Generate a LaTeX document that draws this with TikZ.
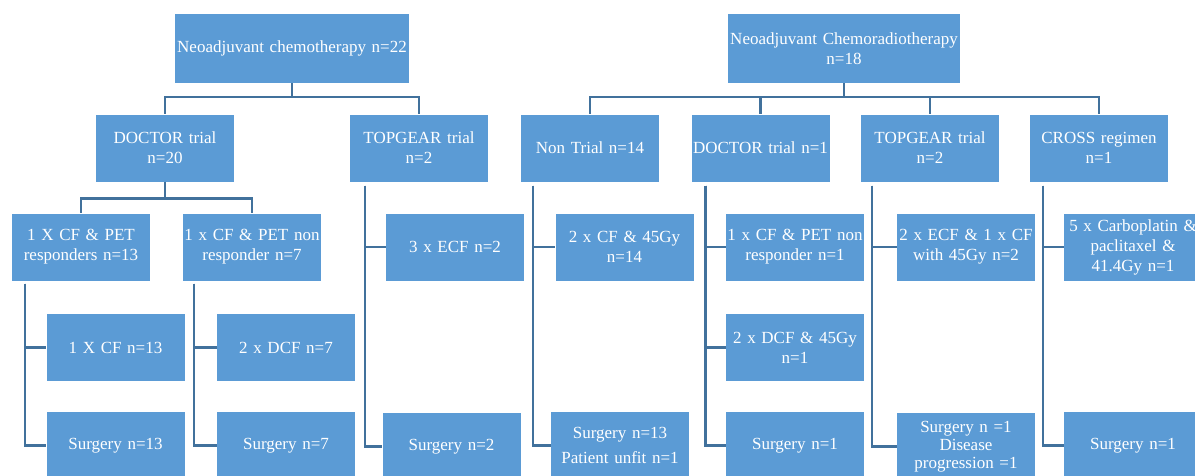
\documentclass[tikz,border=0pt]{standalone}
\usepackage{fontspec}
\setmainfont{Liberation Serif}
\usetikzlibrary{calc}
\definecolor{boxblue}{HTML}{5B9BD5}
\definecolor{lineblue}{HTML}{41719C}
\tikzset{
  box/.style={rectangle, fill=boxblue, text=white, inner sep=0pt,
    minimum width=138pt, minimum height=67pt, text width=136pt, align=center,
    font=\fontsize{17}{20}\selectfont},
  conn/.style={draw=lineblue, line width=2.5pt},
}
\begin{document}
\begin{tikzpicture}[x=1pt,y=-1pt]
\useasboundingbox (0,0) rectangle (1195,475);
% roots
\node[box, minimum width=234pt, text width=232pt, minimum height=69pt] (r1) at (292,48.5) {Neoadjuvant chemotherapy n=22};
\node[box, minimum width=232pt, text width=230pt, minimum height=69pt] (r2) at (844,48.5) {Neoadjuvant Chemoradiotherapy\\n=18};
% level 2
\node[box] (d1) at (165,148) {DOCTOR trial\\n=20};
\node[box] (t1) at (419,148) {TOPGEAR trial\\n=2};
\node[box] (n2) at (590,148) {Non Trial n=14};
\node[box] (d2) at (760.5,148) {DOCTOR trial n=1};
\node[box] (t2) at (930,148) {TOPGEAR trial\\n=2};
\node[box] (c2) at (1099,148) {CROSS regimen\\n=1};
% level 3
\node[box] (a1) at (81,247) {1 X CF \& PET\\responders n=13};
\node[box] (a2) at (252,247) {1 x CF \& PET non\\responder n=7};
\node[box] (a3) at (455,247) {3 x ECF n=2};
\node[box] (b1) at (624.5,247) {2 x CF \& 45Gy\\n=14};
\node[box] (b2) at (795,247) {1 x CF \& PET non\\responder n=1};
\node[box] (b3) at (966,247) {2 x ECF \& 1 x CF\\with 45Gy n=2};
\node[box] (b4) at (1133,247) {5 x Carboplatin \&\\paclitaxel \&\\41.4Gy n=1};
% level 4
\node[box] (e1) at (115.5,347.5) {1 X CF n=13};
\node[box] (e2) at (286,347.5) {2 x DCF n=7};
\node[box] (f2) at (795,347.5) {2 x DCF \& 45Gy\\n=1};
% level 5
\node[box] (s1) at (115.5,445.5) {Surgery n=13};
\node[box] (s2) at (286,445.5) {Surgery n=7};
\node[box] (s3) at (451.5,446.5) {Surgery n=2};
\node[box, font=\fontsize{17}{25}\selectfont] (s4) at (620,445.5) {Surgery n=13\\Patient unfit n=1};
\node[box] (s5) at (795,445.5) {Surgery n=1};
\node[box, font=\fontsize{17}{18}\selectfont] (s6) at (966,446.5) {Surgery n =1\\Disease\\progression =1};
\node[box] (s7) at (1133,445.5) {Surgery n=1};
% root connectors
\draw[conn] (r1.south) -- ++(0,14) coordinate (j1);
\draw[conn] (j1) -| (d1.north);
\draw[conn] (j1) -| (t1.north);
\draw[conn] (r2.south) -- ++(0,14) coordinate (j2);
\draw[conn] (j2) -| (n2.north);
\draw[conn] (j2) -| (d2.north);
\draw[conn] (j2) -| (t2.north);
\draw[conn] (j2) -| (c2.north);
% DOCTOR left
\draw[conn] (d1.south) -- ++(0,17) coordinate (j3);
\draw[conn] (j3) -| (a1.north);
\draw[conn] (j3) -| (a2.north);
% side verticals
\draw[conn] ($(a1.south west)+(13,3)$) |- (e1.west);
\draw[conn] ($(a1.south west)+(13,3)$) |- (s1.west);
\draw[conn] ($(a2.south west)+(11,3)$) |- (e2.west);
\draw[conn] ($(a2.south west)+(11,3)$) |- (s2.west);
\draw[conn] ($(t1.south west)+(15,4)$) |- (a3.west);
\draw[conn] ($(t1.south west)+(15,4)$) |- (s3.west);
\draw[conn] ($(n2.south west)+(12,4)$) |- (b1.west);
\draw[conn] ($(n2.south west)+(12,4)$) |- (s4.west);
\draw[conn] ($(d2.south west)+(14,4)$) |- (b2.west);
\draw[conn] ($(d2.south west)+(14,4)$) |- (f2.west);
\draw[conn] ($(d2.south west)+(14,4)$) |- (s5.west);
\draw[conn] ($(t2.south west)+(11,4)$) |- (b3.west);
\draw[conn] ($(t2.south west)+(11,4)$) |- (s6.west);
\draw[conn] ($(c2.south west)+(13,4)$) |- (b4.west);
\draw[conn] ($(c2.south west)+(13,4)$) |- (s7.west);
\end{tikzpicture}
\end{document}
